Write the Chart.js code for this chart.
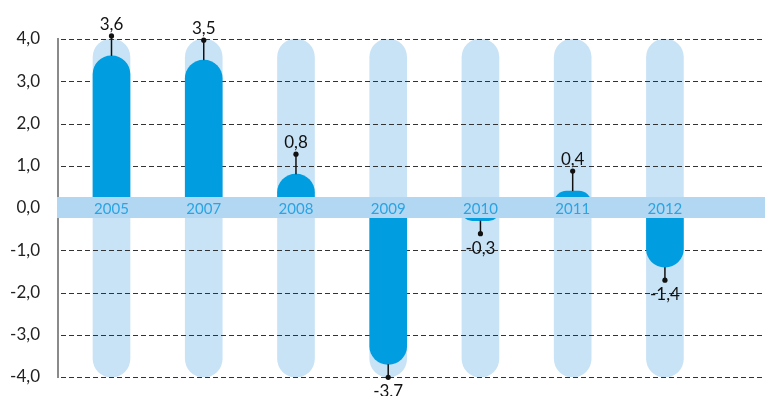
<!DOCTYPE html>
<html>
<head>
<meta charset="utf-8">
<script src="https://cdn.jsdelivr.net/npm/chart.js@4/dist/chart.umd.min.js"></script>
<style>
  html, body { margin: 0; padding: 0; background: #ffffff; }
  #wrap { width: 765px; height: 396px; position: relative; }
</style>
</head>
<body>
<div id="wrap"><canvas id="chart"></canvas></div>
<script>
// Years shown on the zero band
const categories = ['2005', '2007', '2008', '2009', '2010', '2011', '2012'];
// Annual change, %
const values = [3.6, 3.5, 0.8, -3.7, -0.3, 0.4, -1.4];
// Printed value labels
const valueLabels = ['3,6', '3,5', '0,8', '-3.7', '-0,3', '0,4', '-1,4'];
// Y axis range and ticks
const yTicks = [-4, -3, -2, -1, 0, 1, 2, 3, 4];
const yMin = -4;
const yMax = 4;

const DARK = '#009ee0';
const TRACK = '#c9e3f6';
const BAND = '#b2d7f3';
const BAR_W = 37;
const FONT = 'Lato, "Open Sans", sans-serif';

// bars start inside the zero band so their base stays hidden under it
const barBase = 0.2;

const decoration = {
  id: 'decoration',
  beforeDatasetDraw(chart, args) {
    if (chart.data.datasets[args.index].label !== 'value') return;
    // dashed grid lines sit above the tracks but under the value bars
    const { ctx, chartArea } = chart;
    const y = chart.scales.y;
    ctx.save();
    ctx.strokeStyle = '#333333';
    ctx.lineWidth = 1;
    ctx.setLineDash([5, 3]);
    yTicks.forEach(t => {
      if (t === 0) return;
      const py = Math.round(y.getPixelForValue(t)) + 0.5;
      ctx.beginPath();
      ctx.moveTo(chartArea.left + 3, py);
      ctx.lineTo(chartArea.right, py);
      ctx.stroke();
    });
    ctx.restore();
  },
  afterDatasetsDraw(chart) {
    const { ctx, chartArea, width } = chart;
    const x = chart.scales.x;
    const y = chart.scales.y;
    const y0 = y.getPixelForValue(0);

    // zero band
    ctx.save();
    ctx.fillStyle = BAND;
    ctx.fillRect(chartArea.left - 1, y0 - 11, width - chartArea.left + 1, 21);

    // year labels in the band
    ctx.fillStyle = '#2aa4e2';
    ctx.font = '15px ' + FONT;
    ctx.textAlign = 'center';
    ctx.textBaseline = 'middle';
    categories.forEach((c, i) => {
      ctx.fillText(c, x.getPixelForValue(i), y0 + 1);
    });

    // leader lines, dots and value labels
    ctx.strokeStyle = '#111111';
    ctx.fillStyle = '#111111';
    ctx.lineWidth = 1.5;
    ctx.font = '17px ' + FONT;
    values.forEach((v, i) => {
      const px = x.getPixelForValue(i);
      const end = y.getPixelForValue(v);
      const dotY = v >= 0 ? end - 20 : end + 13;
      ctx.beginPath();
      ctx.moveTo(px, end);
      ctx.lineTo(px, dotY);
      ctx.stroke();
      ctx.beginPath();
      ctx.arc(px, dotY, 2.6, 0, Math.PI * 2);
      ctx.fill();
      if (v >= 0) {
        ctx.textBaseline = 'bottom';
        ctx.fillText(valueLabels[i], px, dotY - 3);
      } else {
        ctx.textBaseline = 'top';
        ctx.fillText(valueLabels[i], px, dotY + 6);
      }
    });
    ctx.restore();
  }
};

new Chart(document.getElementById('chart'), {
  type: 'bar',
  data: {
    datasets: [
      {
        label: 'value',
        data: values.map((v, i) => ({ x: i, y: [v >= 0 ? -barBase : barBase, v] })),
        backgroundColor: DARK,
        borderWidth: 0,
        borderRadius: BAR_W / 2,
        borderSkipped: 'start',
        barThickness: BAR_W,
        grouped: false,
        order: 1
      },
      {
        label: 'track',
        data: values.map((v, i) => ({ x: i, y: [yMin, yMax] })),
        backgroundColor: TRACK,
        borderWidth: 0,
        borderRadius: BAR_W / 2,
        borderSkipped: false,
        barThickness: BAR_W,
        grouped: false,
        order: 2
      }
    ]
  },
  options: {
    responsive: true,
    maintainAspectRatio: false,
    animation: false,
    layout: { padding: { top: 39, bottom: 19, left: 0, right: 0 } },
    plugins: { legend: { display: false }, tooltip: { enabled: false } },
    scales: {
      x: {
        type: 'linear',
        offset: false,
        min: -0.58,
        max: 7.085,
        display: false
      },
      y: {
        min: yMin,
        max: yMax,
        afterFit(scale) {
          scale.width = 58;
          scale.paddingTop = 0;
          scale.paddingBottom = 0;
        },
        afterBuildTicks(scale) { scale.ticks = yTicks.map(v => ({ value: v })); },
        grid: { display: false, drawTicks: false },
        border: { display: true, color: '#8a8a8a', width: 2, dash: [2, 2] },
        ticks: {
          padding: 18,
          color: '#222222',
          font: { family: FONT, size: 17 },
          callback: v => v.toFixed(1).replace('.', ',')
        }
      }
    }
  },
  plugins: [decoration]
});
</script>
</body>
</html>
